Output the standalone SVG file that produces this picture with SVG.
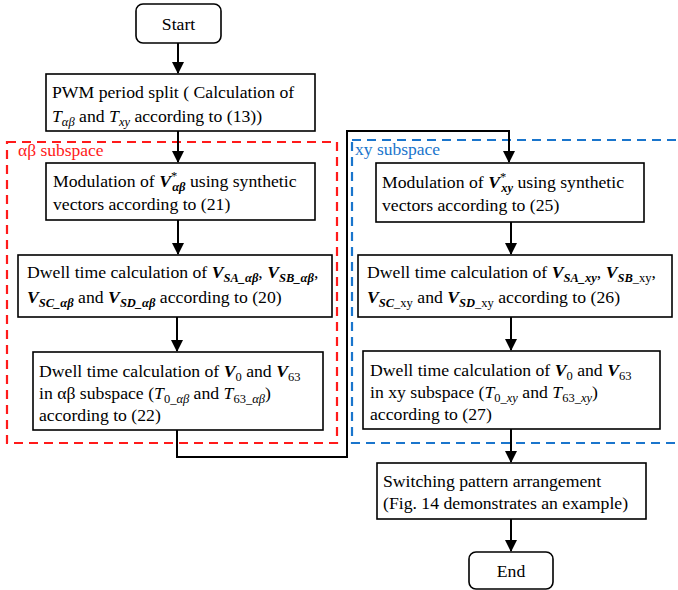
<svg xmlns="http://www.w3.org/2000/svg" width="678" height="590" viewBox="0 0 678 590">
<defs>
<marker id="arr" markerWidth="12" markerHeight="12" refX="11" refY="6" orient="auto" markerUnits="userSpaceOnUse">
<path d="M0,0 L12,6 L0,12 Z" fill="#000"/>
</marker>
<style>
text{font-family:"Liberation Serif","Times New Roman",serif;font-size:17.7px}
.bi{font-weight:bold;font-style:italic}
.it{font-style:italic}
.sub{font-size:12.5px}
.lbl{font-size:17.5px}
.box{fill:#fff;stroke:#000;stroke-width:1.6}
.conn{fill:none;stroke:#000;stroke-width:2}
</style>
</defs>
<rect x="7" y="142" width="330" height="301" fill="none" stroke="#ff1a1a" stroke-width="2.2" stroke-dasharray="9,6"/>
<rect x="352" y="140" width="340" height="303" fill="none" stroke="#1a75cc" stroke-width="2.2" stroke-dasharray="9,6"/>
<text class="lbl" x="18" y="156" fill="#ff1a1a">αβ subspace</text>
<text class="lbl" x="355" y="155" fill="#1a75cc">xy subspace</text>
<g id="connectors">
<path class="conn" d="M178,43 V73" marker-end="url(#arr)"/>
<path class="conn" d="M178,131 V162" marker-end="url(#arr)"/>
<path class="conn" d="M178,220 V254" marker-end="url(#arr)"/>
<path class="conn" d="M177,317 V351" marker-end="url(#arr)"/>
<path class="conn" d="M177,430 V457 H347 V131 H509 V162" marker-end="url(#arr)"/>
<path class="conn" d="M511,222 V254" marker-end="url(#arr)"/>
<path class="conn" d="M511,317 V350" marker-end="url(#arr)"/>
<path class="conn" d="M511,429 V462" marker-end="url(#arr)"/>
<path class="conn" d="M511,519 V551" marker-end="url(#arr)"/>
</g>
<g id="start">
<rect class="box" x="136" y="4" width="85" height="39" rx="7"/>
<text x="178.5" y="30" text-anchor="middle">Start</text>
</g>
<g id="pwm">
<rect class="box" x="46" y="74" width="269" height="57"/>
<text x="52" y="98">PWM period split ( Calculation of</text>
<text x="52" y="122"><tspan class="it">T</tspan><tspan class="it sub" dy="4">αβ</tspan><tspan dy="-4"> and </tspan><tspan class="it">T</tspan><tspan class="it sub" dy="4">xy</tspan><tspan dy="-4"> according to (13))</tspan></text>
</g>
<g id="mod-ab">
<rect class="box" x="46" y="163" width="269" height="57"/>
<text x="53" y="187">Modulation of <tspan class="bi">V</tspan><tspan class="sub" dy="-7">*</tspan><tspan class="bi sub" dx="-5" dy="11">αβ</tspan><tspan dy="-4"> using synthetic</tspan></text>
<text x="53" y="210">vectors according to (21)</text>
</g>
<g id="dwell-ab">
<rect class="box" x="18" y="255" width="314" height="62"/>
<text x="27" y="278">Dwell time calculation of <tspan class="bi">V</tspan><tspan class="bi sub" dy="4">SA_αβ</tspan><tspan dy="-4">, </tspan><tspan class="bi">V</tspan><tspan class="bi sub" dy="4">SB_αβ</tspan><tspan dy="-4">,</tspan></text>
<text x="27" y="303"><tspan class="bi">V</tspan><tspan class="bi sub" dy="4">SC_αβ</tspan><tspan dy="-4"> and </tspan><tspan class="bi">V</tspan><tspan class="bi sub" dy="4">SD_αβ</tspan><tspan dy="-4"> according to (20)</tspan></text>
</g>
<g id="zero-ab">
<rect class="box" x="33" y="352" width="290" height="78"/>
<text x="39" y="377">Dwell time calculation of <tspan class="bi">V</tspan><tspan class="sub" dy="4">0</tspan><tspan dy="-4"> and </tspan><tspan class="bi">V</tspan><tspan class="sub" dy="4">63</tspan></text>
<text x="39" y="399">in αβ subspace (<tspan class="it">T</tspan><tspan class="sub" dy="4">0</tspan><tspan class="it sub">_αβ</tspan><tspan dy="-4"> and </tspan><tspan class="it">T</tspan><tspan class="sub" dy="4">63</tspan><tspan class="it sub">_αβ</tspan><tspan dy="-4">)</tspan></text>
<text x="39" y="421">according to (22)</text>
</g>
<g id="mod-xy">
<rect class="box" x="376" y="163" width="268" height="59"/>
<text x="382" y="188">Modulation of <tspan class="bi">V</tspan><tspan class="sub" dy="-7">*</tspan><tspan class="bi sub" dx="-5" dy="11">xy</tspan><tspan dy="-4"> using synthetic</tspan></text>
<text x="382" y="211">vectors according to (25)</text>
</g>
<g id="dwell-xy">
<rect class="box" x="358" y="255" width="314" height="62"/>
<text x="367" y="278">Dwell time calculation of <tspan class="bi">V</tspan><tspan class="bi sub" dy="4">SA_xy</tspan><tspan dy="-4">, </tspan><tspan class="bi">V</tspan><tspan class="bi sub" dy="4">SB</tspan><tspan class="sub">_xy</tspan><tspan dy="-4">,</tspan></text>
<text x="367" y="303"><tspan class="bi">V</tspan><tspan class="bi sub" dy="4">SC</tspan><tspan class="sub">_xy</tspan><tspan dy="-4"> and </tspan><tspan class="bi">V</tspan><tspan class="bi sub" dy="4">SD</tspan><tspan class="sub">_xy</tspan><tspan dy="-4"> according to (26)</tspan></text>
</g>
<g id="zero-xy">
<rect class="box" x="363" y="351" width="297" height="78"/>
<text x="370" y="376">Dwell time calculation of <tspan class="bi">V</tspan><tspan class="sub" dy="4">0</tspan><tspan dy="-4"> and </tspan><tspan class="bi">V</tspan><tspan class="sub" dy="4">63</tspan></text>
<text x="370" y="398">in xy subspace (<tspan class="it">T</tspan><tspan class="sub" dy="4">0</tspan><tspan class="it sub">_xy</tspan><tspan dy="-4"> and </tspan><tspan class="it">T</tspan><tspan class="sub" dy="4">63</tspan><tspan class="it sub">_xy</tspan><tspan dy="-4">)</tspan></text>
<text x="370" y="420">according to (27)</text>
</g>
<g id="switching">
<rect class="box" x="377" y="463" width="269" height="56"/>
<text x="383" y="487">Switching pattern arrangement</text>
<text x="383" y="509">(Fig. 14 demonstrates an example)</text>
</g>
<g id="end">
<rect class="box" x="469" y="552" width="84" height="37" rx="7"/>
<text x="511" y="577" text-anchor="middle">End</text>
</g>
</svg>
